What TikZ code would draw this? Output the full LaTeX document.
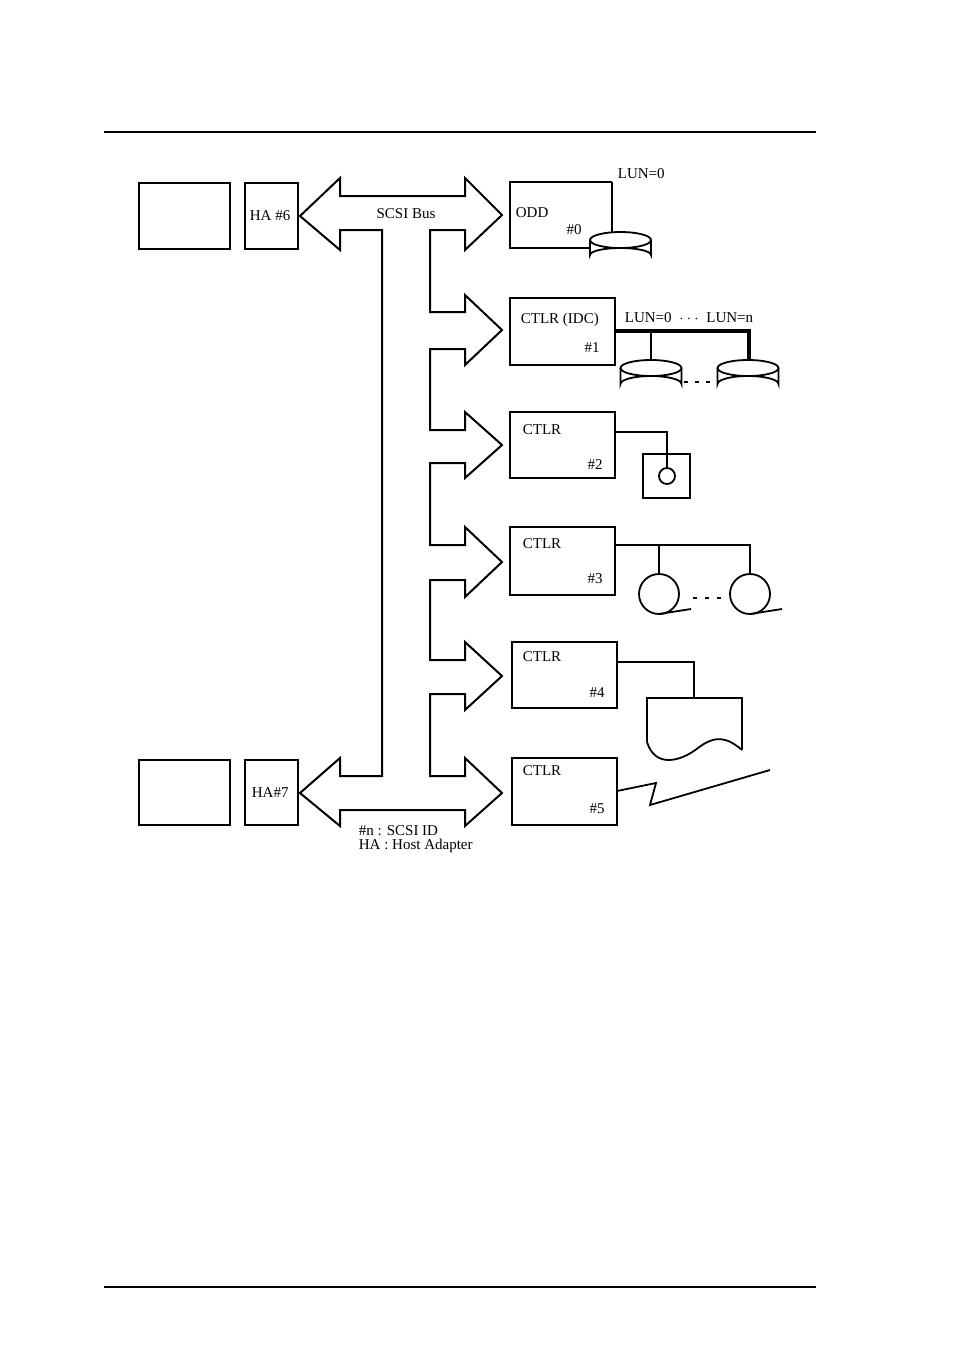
\documentclass[tikz,border=0pt]{standalone}
\usepackage{fontspec}
\setmainfont{Liberation Serif}
\begin{document}
\begin{tikzpicture}[x=0.5pt,y=-0.5pt,line width=0.9pt,
  lbl/.style={inner sep=0pt,font=\fontsize{7.5}{9}\selectfont},
  box/.style={draw,line width=0.9pt}]
\useasboundingbox (0,0) rectangle (954,1351);
\draw[line width=0.7pt] (104,132) -- (816,132);
\draw[line width=0.7pt] (104,1287) -- (816,1287);
% hosts
\draw[box] (139,183) rectangle (230,249);
\draw[box] (245,183) rectangle (298,249);
\node[lbl,anchor=west] (ha6) at (249,216) {HA \#6};
\draw[box] (139,760) rectangle (230,825);
\draw[box] (245,760) rectangle (298,825);
\node[lbl,anchor=west] (ha7) at (251,793) {HA\#7};
% bus
\draw[line width=1pt,line join=miter] (300,216) -- (340,178) -- (340,196) -- (465,196) -- (465,178) -- (502,215) -- (465,250) -- (465,230) -- (430,230)
 -- (430,312) -- (465,312) -- (465,295) -- (502,330) -- (465,365) -- (465,349) -- (430,349)
 -- (430,430) -- (465,430) -- (465,412) -- (502,445) -- (465,478) -- (465,463) -- (430,463)
 -- (430,545) -- (465,545) -- (465,527) -- (502,562) -- (465,597) -- (465,580) -- (430,580)
 -- (430,660) -- (465,660) -- (465,642) -- (502,676) -- (465,710) -- (465,694) -- (430,694)
 -- (430,776) -- (465,776) -- (465,758) -- (502,793) -- (465,826) -- (465,810) -- (340,810) -- (340,826) -- (300,793) -- (340,758) -- (340,776) -- (382,776) -- (382,230) -- (340,230) -- (340,250) -- cycle;
\node[lbl] (bus) at (406,214) {SCSI Bus};
% ODD
\draw[box] (612,182) -- (510,182) -- (510,248) -- (600,248);
\draw (612,182) -- (612,232);
\node[lbl,anchor=west] at (515,213) {ODD};
\node[lbl] at (574,230) {\#0};
\node[lbl,anchor=west] at (617,174) {LUN=0};
\draw[fill=white] (590,240) -- (590,255) arc[start angle=180,end angle=360,x radius=30.5,y radius=7] -- (651,240);
\draw[fill=white] (620.5,240) ellipse[x radius=30.5,y radius=8];
% IDC
\draw[box] (510,298) rectangle (615,365);
\node[lbl,anchor=west] at (520,320) {CTLR (IDC)};
\node[lbl] at (592,348) {\#1};
\node[lbl,anchor=west] at (624,318) {LUN=0 \ $\cdots$ \ LUN=n};
\draw[line width=1.6pt] (615,331) -- (749,331) -- (749,367);
\draw[line width=1.3pt] (651,331) -- (651,367);
\foreach \cx in {651,748}{
 \draw[fill=white] (\cx-30.5,368) -- (\cx-30.5,384) arc[start angle=180,end angle=360,x radius=30.5,y radius=8] -- (\cx+30.5,368);
 \draw[fill=white] (\cx,368) ellipse[x radius=30.5,y radius=8];}
\draw[line width=1.4pt,dash pattern=on 2pt off 3.5pt] (684,382) -- (716,382);
% CTLR 2
\draw[box] (510,412) rectangle (615,478);
\node[lbl,anchor=west] at (522,430) {CTLR};
\node[lbl] at (595,465) {\#2};
\draw (615,432) -- (667,432) -- (667,468);
\draw (643,454) rectangle (690,498);
\draw (667,476) circle (8);
% CTLR 3
\draw[box] (510,527) rectangle (615,595);
\node[lbl,anchor=west] at (522,544) {CTLR};
\node[lbl] at (595,579) {\#3};
\draw (615,545) -- (750,545) -- (750,575);
\draw (659,545) -- (659,575);
\foreach \cx in {659,750}{
 \draw (\cx,594) circle (20);
 \draw (\cx,614) -- (\cx+32,609);}
\draw[line width=1.2pt,dash pattern=on 2pt off 4pt] (693,598) -- (724,598);
% CTLR 4
\draw[box] (512,642) rectangle (617,708);
\node[lbl,anchor=west] at (522,657) {CTLR};
\node[lbl] at (597,693) {\#4};
\draw (617,662) -- (694,662) -- (694,698);
\draw (647,742) -- (647,698) -- (742,698) -- (742,750);
\draw (647,742) .. controls (655,768) and (680,762) .. (698,748) .. controls (716,734) and (728,738) .. (742,750);
% CTLR 5
\draw[box] (512,758) rectangle (617,825);
\node[lbl,anchor=west] at (522,771) {CTLR};
\node[lbl] at (597,809) {\#5};
\draw (617,791) -- (656,783) -- (650,805) -- (770,770);
% legend
\node[lbl,anchor=west] at (358,831) {\#n : SCSI ID};
\node[lbl,anchor=west] at (358,846) {HA : Host Adapter};
\end{tikzpicture}
\end{document}
